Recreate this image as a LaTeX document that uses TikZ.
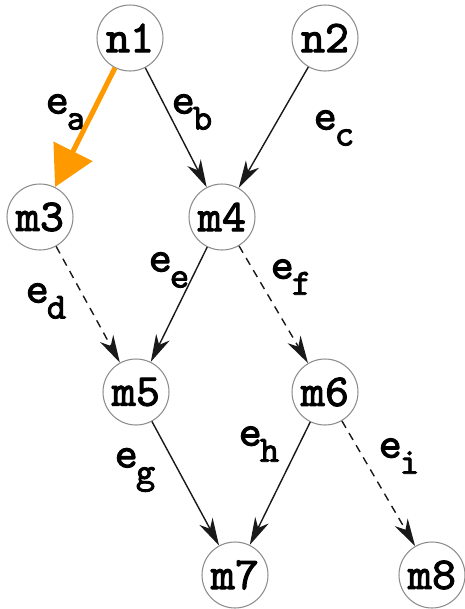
\documentclass[tikz,border=0pt]{standalone}
\usepackage{fontspec}
\newfontfamily\codefont{lmmono10-regular.otf}[FakeBold=2.2]
\usepackage{tikz}
\usetikzlibrary{arrows.meta}

\definecolor{hiorange}{RGB}{255,153,0}
\newcommand{\elab}[1]{e\kern-0.04cm\raisebox{-0.32cm}{\fontsize{21}{22}\selectfont #1}}

\begin{document}
\begin{tikzpicture}[x=0.02cm, y=-0.02cm,
  state/.style={circle, draw=black!45, line width=0.6pt, minimum size=1.32cm, inner sep=0pt,
    font=\fontsize{26}{27}\codefont},
  elabel/.style={font=\fontsize{25}{26}\codefont, inner sep=0pt},
  arrow/.style={-{Stealth[length=0.55cm, width=0.3cm, inset=0.17cm]}, line width=0.8pt, black!90},
  optarrow/.style={arrow, dash pattern=on 4.5pt off 3.5pt},
  hilite/.style={-{Triangle[length=0.8cm, width=0.85cm]}, line width=2.9pt, hiorange}
]
\useasboundingbox (0,0) rectangle (465,609);

\node[state] (n1) at (130, 38) {n1};
\node[state] (n2) at (325, 38) {n2};
\node[state] (m3) at (40, 217) {m3};
\node[state] (m4) at (222, 217) {m4};
\node[state] (m5) at (136, 392) {m5};
\node[state] (m6) at (325, 392) {m6};
\node[state] (m7) at (235, 575) {m7};
\node[state] (m8) at (432, 575) {m8};

\node[elabel] (la) at (66, 112) {\elab{a}};
\node[elabel] (lb) at (192, 112) {\elab{b}};
\node[elabel] (lc) at (334, 128) {\elab{c}};
\node[elabel] (ld) at (46, 301) {\elab{d}};
\node[elabel] (le) at (169, 270) {\elab{e}};
\node[elabel] (lf) at (291, 277) {\elab{f}};
\node[elabel] (lg) at (135, 470) {\elab{g}};
\node[elabel] (lh) at (259, 444) {\elab{h}};
\node[elabel] (li) at (399, 456) {\elab{i}};

\draw[hilite] (n1) -- (m3);
\draw[arrow] (n1) -- (m4);
\draw[arrow] (n2) -- (m4);
\draw[optarrow] (m3) -- (m5);
\draw[arrow] (m4) -- (m5);
\draw[optarrow] (m4) -- (m6);
\draw[arrow] (m5) -- (m7);
\draw[arrow] (m6) -- (m7);
\draw[optarrow] (m6) -- (m8);

\end{tikzpicture}
\end{document}
